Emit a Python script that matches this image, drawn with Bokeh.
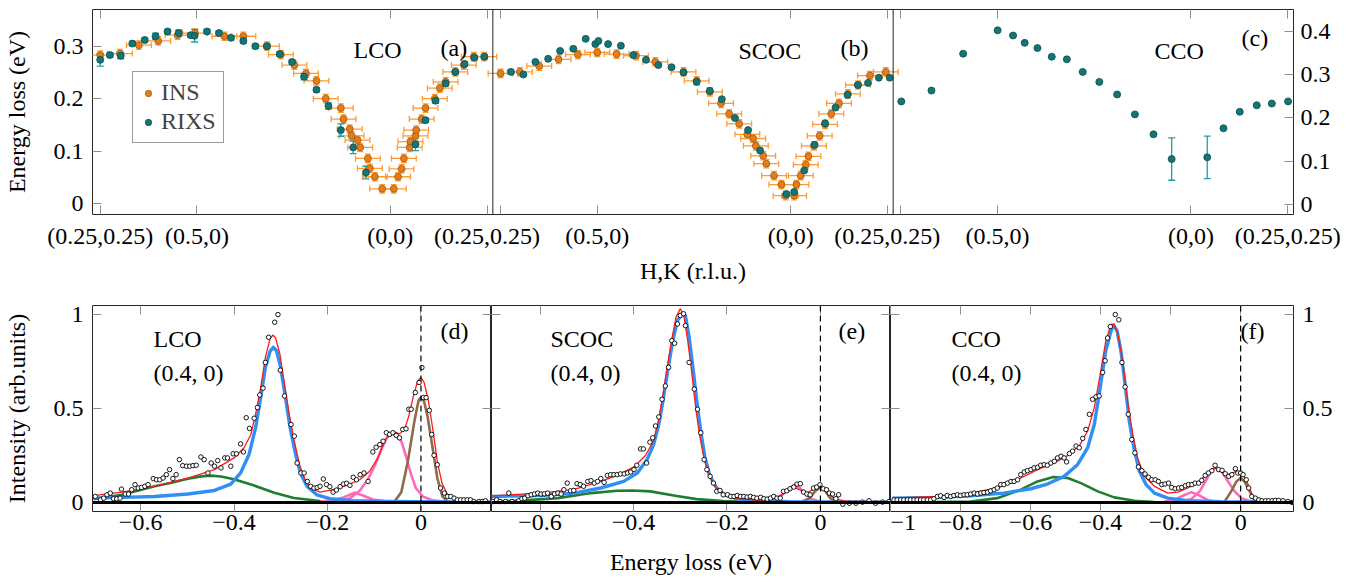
from bokeh.plotting import figure
from bokeh.models import (Range1d, LinearAxis, FixedTicker, Span, Label, Legend, LegendItem,
                          Whisker, TeeHead, ColumnDataSource, CustomJSTickFormatter)
from bokeh.layouts import column, row
from bokeh.embed import file_html
from bokeh.resources import INLINE

# ---------------- top row: dispersion (q along path, E in eV) ----------------
HK_TICKS = [0.0, 0.25, 0.75, 1.0]
HK_LABELS = ["(0.25,0.25)", "(0.5,0)", "(0,0)", "(0.25,0.25)"]
EAB_TICKS = [0.0, 0.1, 0.2, 0.3]
EAB_LABELS = ["0", "0.1", "0.2", "0.3"]
EC_TICKS = [0.0, 0.1, 0.2, 0.3, 0.4]
EC_LABELS = ["0", "0.1", "0.2", "0.3", "0.4"]

INS_QERR = 0.032
INS_EERR = 0.008

INS_A_Q = [0.0, 0.051, 0.10, 0.15, 0.20, 0.245, 0.321, 0.37, 0.431, 0.467, 0.502, 0.532, 0.559, 0.583,
           0.622, 0.629, 0.645, 0.65, 0.665, 0.672, 0.692, 0.697, 0.71, 0.729, 0.759, 0.77, 0.779, 0.785,
           0.80, 0.802, 0.815, 0.817, 0.831, 0.841, 0.865, 0.878, 0.893, 0.918, 0.94, 0.966, 0.993]
INS_A_E = [0.283, 0.286, 0.302, 0.31, 0.321, 0.325, 0.319, 0.319, 0.30, 0.284, 0.264, 0.248, 0.234, 0.20,
           0.182, 0.161, 0.142, 0.129, 0.121, 0.107, 0.086, 0.067, 0.051, 0.028, 0.028, 0.051, 0.066, 0.086,
           0.107, 0.118, 0.129, 0.14, 0.161, 0.182, 0.20, 0.22, 0.232, 0.251, 0.264, 0.28, 0.28]
RIXS_A_Q = [0.0, 0.025, 0.053, 0.083, 0.115, 0.143, 0.174, 0.203, 0.234, 0.244, 0.276, 0.307, 0.338, 0.37,
            0.401, 0.431, 0.464, 0.496, 0.527, 0.559, 0.59, 0.622, 0.654, 0.687, 0.815, 0.841, 0.867, 0.893,
            0.918, 0.942, 0.967, 0.993]
RIXS_A_E = [0.274, 0.283, 0.282, 0.305, 0.312, 0.319, 0.328, 0.325, 0.321, 0.32, 0.328, 0.325, 0.316, 0.31,
            0.30, 0.30, 0.285, 0.27, 0.242, 0.217, 0.186, 0.14, 0.107, 0.059, 0.113, 0.159, 0.196, 0.229,
            0.251, 0.266, 0.278, 0.28]
RIXS_A_ERR = [0.012, 0.004, 0.006, 0.004, 0.004, 0.006, 0.004, 0.006, 0.004, 0.012, 0.004, 0.004, 0.004,
              0.004, 0.004, 0.004, 0.004, 0.004, 0.006, 0.004, 0.006, 0.012, 0.012, 0.012, 0.012, 0.004,
              0.004, 0.004, 0.004, 0.004, 0.004, 0.004]

INS_B_Q = [0.0, 0.05, 0.10, 0.15, 0.20, 0.25, 0.30, 0.35, 0.40, 0.473, 0.507, 0.541, 0.57, 0.591, 0.617,
           0.638, 0.653, 0.66, 0.679, 0.687, 0.707, 0.726, 0.737, 0.759, 0.765, 0.776, 0.789, 0.796, 0.81,
           0.825, 0.839, 0.855, 0.875, 0.898, 0.924, 0.955, 0.996]
INS_B_E = [0.248, 0.251, 0.262, 0.275, 0.284, 0.288, 0.285, 0.282, 0.27, 0.251, 0.234, 0.213, 0.191, 0.171,
           0.152, 0.132, 0.124, 0.11, 0.091, 0.076, 0.053, 0.036, 0.015, 0.015, 0.036, 0.053, 0.074, 0.09,
           0.11, 0.129, 0.151, 0.171, 0.191, 0.209, 0.226, 0.244, 0.251]
RIXS_B_Q = [0.027, 0.059, 0.09, 0.123, 0.154, 0.188, 0.22, 0.245, 0.253, 0.278, 0.311, 0.343, 0.376, 0.408,
            0.442, 0.473, 0.507, 0.541, 0.572, 0.606, 0.64, 0.671, 0.739, 0.759, 0.785, 0.812, 0.839, 0.866,
            0.897, 0.924, 0.95, 0.978, 1.006]
RIXS_B_E = [0.251, 0.246, 0.27, 0.276, 0.291, 0.295, 0.314, 0.304, 0.31, 0.304, 0.301, 0.283, 0.274, 0.264,
            0.26, 0.25, 0.232, 0.215, 0.199, 0.163, 0.14, 0.101, 0.018, 0.022, 0.063, 0.112, 0.153, 0.183,
            0.207, 0.226, 0.23, 0.24, 0.24]

RIXS_C_Q = [0.001, 0.079, 0.161, 0.25, 0.29, 0.32, 0.353, 0.39, 0.429, 0.47, 0.513, 0.559, 0.605, 0.653,
            0.70, 0.792, 0.834, 0.876, 0.92, 0.959, 1.001]
RIXS_C_E = [0.238, 0.263, 0.348, 0.402, 0.39, 0.373, 0.361, 0.341, 0.335, 0.306, 0.283, 0.254, 0.208, 0.162,
            0.105, 0.109, 0.176, 0.214, 0.229, 0.233, 0.238]
RIXS_C_ERR = [0.0, 0.0, 0.0, 0.0, 0.0, 0.0, 0.0, 0.0, 0.0, 0.0, 0.0, 0.0, 0.0, 0.0,
              0.049, 0.049, 0.0, 0.0, 0.0, 0.0, 0.0]

# ---------------- bottom row: RIXS spectra ----------------
I_TICKS = [0.0, 0.5, 1.0]
I_LABELS = ["0", "0.5", "1"]
EDE_TICKS = [-0.6, -0.4, -0.2, 0.0]
EDE_LABELS = ["\u22120.6", "\u22120.4", "\u22120.2", "0"]
EF_TICKS = [-1.0, -0.8, -0.6, -0.4, -0.2, 0.0]
EF_LABELS = ["\u22121", "\u22120.8", "\u22120.6", "\u22120.4", "\u22120.2", "0"]

D_DATA_E = [-0.697, -0.686, -0.679, -0.672, -0.665, -0.658, -0.651, -0.644, -0.641, -0.633,
            -0.626, -0.619, -0.612, -0.605, -0.598, -0.591, -0.584, -0.573, -0.566, -0.559,
            -0.552, -0.545, -0.538, -0.531, -0.524, -0.517, -0.51, -0.502, -0.495, -0.488,
            -0.481, -0.471, -0.464, -0.456, -0.449, -0.442, -0.435, -0.428, -0.42, -0.414,
            -0.407, -0.402, -0.395, -0.386, -0.38, -0.374, -0.367, -0.357, -0.35, -0.345,
            -0.338, -0.333, -0.326, -0.313, -0.306, -0.301, -0.292, -0.278, -0.271, -0.265,
            -0.257, -0.25, -0.243, -0.236, -0.229, -0.222, -0.216, -0.209, -0.202, -0.195,
            -0.188, -0.181, -0.173, -0.166, -0.159, -0.152, -0.145, -0.138, -0.13, -0.122,
            -0.113, -0.103, -0.096, -0.088, -0.081, -0.074, -0.067, -0.06, -0.053, -0.046,
            -0.039, -0.032, -0.026, -0.021, -0.012, -0.004, 0.002, 0.005, 0.011, 0.018,
            0.023, 0.028, 0.035, 0.042, 0.05, 0.057, 0.064, 0.071, 0.078, 0.085,
            0.092, 0.099, 0.106, 0.113, 0.124, 0.131, 0.138]
D_DATA_I = [0.032, 0.014, 0.023, 0.041, 0.05, 0.02, 0.02, 0.023, 0.071, 0.045,
            0.045, 0.068, 0.095, 0.077, 0.08, 0.086, 0.095, 0.127, 0.121, 0.121,
            0.13, 0.148, 0.175, 0.127, 0.148, 0.228, 0.196, 0.193, 0.193, 0.196,
            0.198, 0.242, 0.228, 0.157, 0.21, 0.193, 0.223, 0.184, 0.237, 0.237,
            0.193, 0.259, 0.259, 0.312, 0.269, 0.451, 0.394, 0.448, 0.505, 0.572,
            0.608, 0.745, 0.879, 0.959, 1.0, 0.704, 0.567, 0.415, 0.353, 0.21,
            0.157, 0.157, 0.112, 0.086, 0.077, 0.08, 0.086, 0.125, 0.095, 0.084,
            0.055, 0.066, 0.084, 0.098, 0.102, 0.091, 0.134, 0.121, 0.148, 0.157,
            0.112, 0.269, 0.294, 0.308, 0.326, 0.371, 0.362, 0.371, 0.357, 0.344,
            0.389, 0.392, 0.496, 0.496, 0.585, 0.638, 0.718, 0.558, 0.558, 0.49,
            0.362, 0.251, 0.201, 0.077, 0.05, 0.032, 0.032, 0.023, 0.014, 0.014,
            0.014, 0.014, 0.014, 0.005, 0.005, 0.005, 0.009]
D_RED_E = [-0.701, -0.64, -0.57, -0.499, -0.442, -0.40, -0.379, -0.364, -0.354, -0.343,
           -0.333, -0.323, -0.317, -0.311, -0.302, -0.292, -0.282, -0.271, -0.26, -0.248,
           -0.234, -0.216, -0.188, -0.159, -0.131, -0.11, -0.092, -0.078, -0.066, -0.057,
           -0.046, -0.035, -0.026, -0.016, -0.007, 0.0, 0.007, 0.016, 0.026, 0.035,
           0.045, 0.057, 0.074, 0.103, 0.151]
D_RED_I = [0.037, 0.055, 0.086, 0.13, 0.175, 0.237, 0.29, 0.362, 0.469, 0.611,
           0.772, 0.87, 0.891, 0.875, 0.79, 0.629, 0.469, 0.326, 0.201, 0.121,
           0.073, 0.055, 0.068, 0.091, 0.121, 0.166, 0.237, 0.326, 0.371, 0.376,
           0.365, 0.389, 0.46, 0.567, 0.647, 0.665, 0.638, 0.54, 0.38, 0.219,
           0.103, 0.041, 0.014, 0.007, 0.005]
D_BLUE_E = [-0.701, -0.64, -0.57, -0.499, -0.442, -0.407, -0.386, -0.368, -0.354, -0.343,
            -0.333, -0.323, -0.316, -0.309, -0.301, -0.29, -0.28, -0.269, -0.258, -0.244,
            -0.223, -0.195, -0.145, -0.074, 0.151]
D_BLUE_I = [0.023, 0.027, 0.032, 0.045, 0.064, 0.098, 0.157, 0.255, 0.397, 0.558,
            0.718, 0.804, 0.825, 0.807, 0.727, 0.558, 0.397, 0.264, 0.157, 0.086,
            0.041, 0.02, 0.009, 0.005, 0.002]
D_GREEN_E = [-0.701, -0.64, -0.57, -0.534, -0.499, -0.471, -0.449, -0.428, -0.40, -0.357, -0.314,
             -0.272, -0.216, -0.145, 0.151]
D_GREEN_I = [0.018, 0.041, 0.086, 0.105, 0.126, 0.139, 0.143, 0.138, 0.124, 0.09, 0.052,
             0.024, 0.008, 0.002, 0.0]
D_PINK1_E = [-0.216, -0.188, -0.166, -0.142, -0.124, -0.103, -0.074]
D_PINK1_I = [0.005, 0.012, 0.027, 0.052, 0.037, 0.016, 0.005]
D_PINK2_E = [-0.173, -0.152, -0.131, -0.113, -0.099, -0.085, -0.074, -0.064, -0.053, -0.042,
             -0.032, -0.021, -0.011, 0.004, 0.025, 0.053, 0.151]
D_PINK2_I = [0.005, 0.023, 0.062, 0.125, 0.196, 0.282, 0.34, 0.369, 0.365, 0.326,
             0.246, 0.148, 0.077, 0.032, 0.011, 0.004, 0.0]
D_BROWN_E = [-0.057, -0.042, -0.028, -0.014, -0.005, 0.0, 0.006, 0.014, 0.025, 0.035, 0.046, 0.057]
D_BROWN_I = [0.004, 0.055, 0.219, 0.433, 0.544, 0.558, 0.544, 0.46, 0.29, 0.13, 0.032, 0.005]

E_DATA_E = [-0.701, -0.693, -0.686, -0.674, -0.667, -0.66, -0.646, -0.639, -0.633, -0.626,
            -0.619, -0.612, -0.605, -0.598, -0.591, -0.584, -0.576, -0.569, -0.562, -0.555,
            -0.549, -0.542, -0.535, -0.528, -0.521, -0.514, -0.507, -0.498, -0.491, -0.484,
            -0.477, -0.47, -0.463, -0.456, -0.449, -0.442, -0.435, -0.428, -0.42, -0.413,
            -0.406, -0.399, -0.393, -0.385, -0.379, -0.372, -0.365, -0.359, -0.353, -0.346,
            -0.339, -0.332, -0.325, -0.318, -0.312, -0.306, -0.3, -0.293, -0.289, -0.281,
            -0.27, -0.263, -0.256, -0.249, -0.243, -0.236, -0.229, -0.222, -0.215, -0.208,
            -0.199, -0.192, -0.185, -0.178, -0.171, -0.164, -0.157, -0.15, -0.143, -0.136,
            -0.128, -0.121, -0.114, -0.107, -0.1, -0.093, -0.086, -0.079, -0.072, -0.065,
            -0.057, -0.05, -0.043, -0.036, -0.029, -0.022, -0.015, -0.008, -0.001, 0.006,
            0.013, 0.019, 0.026, 0.033, 0.039, 0.048, 0.062, 0.076, 0.09, 0.104,
            0.118, 0.133, 0.147]
E_DATA_I = [0.005, 0.014, 0.005, 0.005, 0.05, 0.005, 0.009, 0.02, 0.023, 0.036,
            0.041, 0.045, 0.05, 0.045, 0.046, 0.05, 0.032, 0.046, 0.05, 0.045,
            0.068, 0.103, 0.062, 0.064, 0.1, 0.095, 0.086, 0.112, 0.116, 0.103,
            0.112, 0.127, 0.107, 0.144, 0.148, 0.148, 0.148, 0.152, 0.152, 0.157,
            0.162, 0.175, 0.198, 0.285, 0.285, 0.21, 0.321, 0.344, 0.407, 0.455,
            0.549, 0.62, 0.719, 0.861, 0.847, 0.95, 0.995, 1.004, 0.941, 0.745,
            0.603, 0.496, 0.371, 0.228, 0.175, 0.139, 0.103, 0.059, 0.064, 0.041,
            0.041, 0.032, 0.032, 0.037, 0.032, 0.032, 0.029, 0.032, 0.027, 0.023,
            0.027, 0.02, 0.018, 0.023, 0.032, 0.023, 0.023, 0.059, 0.062, 0.073,
            0.082, 0.098, 0.1, 0.055, 0.045, 0.041, 0.077, 0.082, 0.094, 0.073,
            0.068, 0.05, 0.045, 0.02, 0.041, -0.009, -0.004, -0.004, 0.002, 0.009,
            -0.004, 0.002, 0.005]
E_RED_E = [-0.704, -0.598, -0.527, -0.47, -0.435, -0.399, -0.374, -0.357, -0.346, -0.338,
           -0.328, -0.318, -0.309, -0.3, -0.293, -0.284, -0.275, -0.267, -0.259, -0.25,
           -0.24, -0.226, -0.208, -0.179, -0.137, -0.109, -0.087, -0.07, -0.057, -0.045,
           -0.03, -0.016, -0.002, 0.009, 0.019, 0.033, 0.055, 0.15]
E_RED_I = [0.035, 0.05, 0.07, 0.112, 0.144, 0.189, 0.251, 0.33, 0.442, 0.558,
           0.718, 0.87, 0.986, 1.03, 1.004, 0.861, 0.683, 0.504, 0.362, 0.246,
           0.148, 0.086, 0.046, 0.023, 0.011, 0.014, 0.032, 0.064, 0.082, 0.068,
           0.05, 0.068, 0.089, 0.071, 0.041, 0.018, 0.007, 0.005]
E_BLUE_E = [-0.704, -0.598, -0.527, -0.47, -0.421, -0.392, -0.371, -0.357, -0.346, -0.337,
            -0.327, -0.316, -0.306, -0.296, -0.289, -0.281, -0.272, -0.263, -0.255, -0.247,
            -0.236, -0.222, -0.204, -0.179, -0.137, -0.066, 0.15]
E_BLUE_I = [0.032, 0.037, 0.05, 0.077, 0.112, 0.157, 0.228, 0.308, 0.415, 0.54,
            0.7, 0.861, 0.968, 1.004, 0.995, 0.879, 0.7, 0.504, 0.362, 0.237,
            0.139, 0.077, 0.041, 0.02, 0.009, 0.004, 0.002]
E_GREEN_E = [-0.704, -0.633, -0.562, -0.491, -0.435, -0.403, -0.364, -0.314, -0.265, -0.208, -0.137, 0.15]
E_GREEN_I = [0.005, 0.011, 0.023, 0.05, 0.062, 0.064, 0.059, 0.037, 0.018, 0.007, 0.002, 0.0]
E_PINK_E = [-0.123, -0.101, -0.08, -0.066, -0.055, -0.045, -0.034, -0.02, -0.002]
E_PINK_I = [0.005, 0.014, 0.045, 0.077, 0.094, 0.08, 0.05, 0.02, 0.005]
E_BROWN_E = [-0.038, -0.023, -0.013, 0.0, 0.011, 0.021, 0.033]
E_BROWN_I = [0.005, 0.023, 0.055, 0.084, 0.059, 0.023, 0.005]

F_DATA_E = [-0.99, -0.981, -0.971, -0.962, -0.952, -0.943, -0.933, -0.924, -0.914, -0.905,
            -0.895, -0.885, -0.876, -0.866, -0.857, -0.847, -0.838, -0.828, -0.819, -0.809,
            -0.8, -0.79, -0.781, -0.771, -0.761, -0.752, -0.742, -0.733, -0.723, -0.714,
            -0.704, -0.695, -0.685, -0.676, -0.666, -0.656, -0.647, -0.637, -0.628, -0.618,
            -0.609, -0.599, -0.59, -0.58, -0.571, -0.561, -0.552, -0.542, -0.532, -0.523,
            -0.513, -0.504, -0.497, -0.489, -0.48, -0.47, -0.461, -0.451, -0.442, -0.432,
            -0.423, -0.413, -0.404, -0.394, -0.387, -0.38, -0.372, -0.358, -0.348, -0.339,
            -0.33, -0.321, -0.311, -0.302, -0.292, -0.282, -0.273, -0.263, -0.254, -0.244,
            -0.235, -0.225, -0.216, -0.206, -0.197, -0.187, -0.177, -0.168, -0.158, -0.149,
            -0.139, -0.13, -0.12, -0.111, -0.101, -0.092, -0.082, -0.073, -0.063, -0.053,
            -0.044, -0.034, -0.025, -0.015, -0.008, 0.0, 0.007, 0.016, 0.023, 0.032,
            0.042, 0.052, 0.061, 0.071, 0.08, 0.09, 0.099, 0.109, 0.121, 0.135, 0.147]
F_DATA_I = [0.014, 0.014, 0.014, 0.014, 0.014, 0.014, 0.014, 0.014, 0.014, 0.014,
            0.014, 0.014, 0.02, 0.032, 0.036, 0.027, 0.037, 0.032, 0.037, 0.041,
            0.037, 0.041, 0.041, 0.045, 0.05, 0.045, 0.05, 0.053, 0.055, 0.062,
            0.068, 0.077, 0.095, 0.095, 0.103, 0.112, 0.112, 0.121, 0.148, 0.162,
            0.169, 0.175, 0.184, 0.187, 0.198, 0.201, 0.198, 0.21, 0.219, 0.237,
            0.246, 0.237, 0.216, 0.26, 0.273, 0.3, 0.291, 0.341, 0.389, 0.469,
            0.549, 0.562, 0.567, 0.692, 0.754, 0.875, 0.936, 1.0, 0.972, 0.745,
            0.615, 0.469, 0.335, 0.264, 0.189, 0.169, 0.152, 0.134, 0.121, 0.121,
            0.112, 0.095, 0.098, 0.103, 0.08, 0.073, 0.077, 0.08, 0.089, 0.095,
            0.095, 0.103, 0.103, 0.118, 0.144, 0.157, 0.169, 0.198, 0.175, 0.171,
            0.153, 0.139, 0.148, 0.18, 0.157, 0.157, 0.148, 0.121, 0.077, 0.032,
            0.023, 0.014, 0.009, 0.009, 0.009, 0.009, 0.011, 0.011, 0.009, 0.005, 0.0]
F_RED_E = [-0.995, -0.866, -0.771, -0.695, -0.628, -0.58, -0.532, -0.494, -0.461, -0.437,
           -0.418, -0.401, -0.385, -0.37, -0.361, -0.351, -0.337, -0.323, -0.308, -0.294,
           -0.275, -0.246, -0.208, -0.179, -0.151, -0.122, -0.094, -0.074, -0.055, -0.036,
           -0.012, 0.0, 0.016, 0.035, 0.059, 0.15]
F_RED_I = [0.023, 0.032, 0.05, 0.077, 0.13, 0.175, 0.21, 0.25, 0.3, 0.38,
           0.505, 0.683, 0.861, 0.947, 0.95, 0.897, 0.754, 0.54, 0.362, 0.237,
           0.139, 0.086, 0.05, 0.055, 0.077, 0.107, 0.157, 0.184, 0.162, 0.148,
           0.166, 0.162, 0.121, 0.032, 0.009, 0.005]
F_BLUE_E = [-0.995, -0.866, -0.771, -0.676, -0.599, -0.552, -0.504, -0.466, -0.437, -0.418,
            -0.401, -0.385, -0.37, -0.363, -0.353, -0.342, -0.33, -0.318, -0.303, -0.289,
            -0.27, -0.246, -0.208, -0.151, -0.055, 0.15]
F_BLUE_I = [0.023, 0.027, 0.036, 0.05, 0.073, 0.098, 0.139, 0.201, 0.291, 0.415,
            0.612, 0.808, 0.915, 0.941, 0.915, 0.808, 0.629, 0.433, 0.273, 0.166,
            0.095, 0.05, 0.023, 0.009, 0.004, 0.002]
F_GREEN_E = [-0.995, -0.771, -0.695, -0.628, -0.58, -0.535, -0.494, -0.456, -0.408, -0.361, -0.303, -0.246, 0.15]
F_GREEN_I = [0.0, 0.005, 0.023, 0.068, 0.112, 0.135, 0.13, 0.103, 0.059, 0.027, 0.009, 0.002, 0.0]
F_PINK1_E = [-0.218, -0.189, -0.165, -0.141, -0.117, -0.094, -0.065]
F_PINK1_I = [0.004, 0.014, 0.036, 0.055, 0.037, 0.012, 0.004]
F_PINK2_E = [-0.17, -0.141, -0.117, -0.098, -0.082, -0.07, -0.055, -0.036, -0.017, 0.002, 0.031, 0.15]
F_PINK2_I = [0.004, 0.018, 0.059, 0.121, 0.175, 0.187, 0.169, 0.112, 0.059, 0.023, 0.005, 0.0]
F_BROWN_E = [-0.046, -0.027, -0.012, 0.0, 0.011, 0.026, 0.04]
F_BROWN_I = [0.004, 0.059, 0.112, 0.13, 0.112, 0.059, 0.009]

# ---------------- styles ----------------
FONT = "Liberation Serif"
FS = "24px"
TICK_C = "#8f8f8f"
FRAME_C = "#262626"
ORANGE, ORANGE_EDGE, ORANGE_BAR = "#e37d1c", "#a65a0c", "#ff9a33"
TEAL, TEAL_EDGE, TEAL_BAR = "#147575", "#0b4f4f", "#1aa0a0"
RED, BLUE, GREEN, PINK, BROWN = "#ff1a1a", "#2f8ff5", "#1d7f2e", "#ff69b9", "#8b6c4c"

PANEL_SPAN = 1.035
Q_MIN = -0.02
OFFS = [0.0, PANEL_SPAN, 2 * PANEL_SPAN]


def make_axis(ticks, labels=None, standoff=8, axis_label=None, axis_label_standoff=10, **kw):
    ax = LinearAxis(ticker=FixedTicker(ticks=list(ticks)), **kw)
    ax.major_tick_in = 9
    ax.major_tick_out = 0
    ax.minor_tick_in = 0
    ax.minor_tick_out = 0
    ax.minor_tick_line_color = None
    ax.major_tick_line_color = TICK_C
    ax.major_tick_line_width = 1
    ax.axis_line_color = None
    if labels is None:
        ax.formatter = CustomJSTickFormatter(code="return '';")
        ax.major_label_text_font_size = "0px"
        ax.major_label_standoff = 0
    else:
        ax.major_label_overrides = {t: l for t, l in zip(ticks, labels)}
        ax.major_label_text_font = FONT
        ax.major_label_text_font_size = FS
        ax.major_label_text_color = "black"
        ax.major_label_standoff = standoff
    if axis_label:
        ax.axis_label = axis_label
        ax.axis_label_text_font = FONT
        ax.axis_label_text_font_size = FS
        ax.axis_label_text_font_style = "normal"
        ax.axis_label_text_color = "black"
        ax.axis_label_standoff = axis_label_standoff
    return ax


def base_style(p):
    p.xgrid.visible = False
    p.ygrid.visible = False
    p.outline_line_color = FRAME_C
    p.outline_line_width = 1
    p.background_fill_color = "white"
    p.border_fill_color = "white"


def add_label(p, x, y, text):
    p.add_layout(Label(x=x, y=y, x_units="screen", y_units="screen", text=text,
                       text_font=FONT, text_font_size=FS, text_color="black",
                       text_align="left", text_baseline="alphabetic"))


# ---------------- top figure (a), (b), (c) ----------------
top = figure(width=1355, height=291, x_range=Range1d(Q_MIN, Q_MIN + 3 * PANEL_SPAN),
             y_range=Range1d(-0.021, 0.37), output_backend="svg", toolbar_location=None,
             x_axis_location=None, y_axis_location=None,
             min_border_left=89, min_border_right=62, min_border_top=9, min_border_bottom=77)
top.extra_y_ranges = {"c": Range1d(-0.023, 0.45)}
base_style(top)

top_ticks, top_labels = [], []
for k, off in enumerate(OFFS):
    for t, lab in zip(HK_TICKS, HK_LABELS):
        top_ticks.append(round(t + off, 4))
        top_labels.append("" if (k > 0 and t == 0.0) else lab)

top.add_layout(make_axis(top_ticks, top_labels, standoff=8, axis_label="H,K (r.l.u.)",
                         axis_label_standoff=6), "below")
top.add_layout(make_axis(top_ticks), "above")
top.add_layout(make_axis(EAB_TICKS, EAB_LABELS, standoff=9, axis_label="Energy loss (eV)",
                         axis_label_standoff=21), "left")
top.add_layout(make_axis(EC_TICKS, EC_LABELS, standoff=7, y_range_name="c"), "right")

for k in (1, 2):
    top.add_layout(Span(location=Q_MIN + k * PANEL_SPAN, dimension="height",
                        line_color=FRAME_C, line_width=1))


def ins_panel(q, e, off):
    x = [v + off for v in q]
    hs = ColumnDataSource(dict(y=e, lo=[v - INS_QERR for v in x], hi=[v + INS_QERR for v in x]))
    top.add_layout(Whisker(source=hs, base="y", lower="lo", upper="hi", dimension="width",
                           line_color=ORANGE_BAR, line_width=1.3, level="underlay",
                           upper_head=TeeHead(size=6, line_color=ORANGE_BAR, line_width=1.3),
                           lower_head=TeeHead(size=6, line_color=ORANGE_BAR, line_width=1.3)))
    vs = ColumnDataSource(dict(x=x, lo=[v - INS_EERR for v in e], hi=[v + INS_EERR for v in e]))
    top.add_layout(Whisker(source=vs, base="x", lower="lo", upper="hi", dimension="height",
                           line_color=ORANGE_BAR, line_width=1.3, level="underlay",
                           upper_head=TeeHead(size=6, line_color=ORANGE_BAR, line_width=1.3),
                           lower_head=TeeHead(size=6, line_color=ORANGE_BAR, line_width=1.3)))
    return top.scatter(x, e, marker="circle", size=7, fill_color=ORANGE, line_color=ORANGE_EDGE,
                       line_width=0.8)


def rixs_panel(q, e, off, err=None, rname="default"):
    x = [v + off for v in q]
    if err is not None:
        vs = ColumnDataSource(dict(x=x, lo=[a - b for a, b in zip(e, err)],
                                   hi=[a + b for a, b in zip(e, err)]))
        top.add_layout(Whisker(source=vs, base="x", lower="lo", upper="hi", dimension="height",
                               line_color=TEAL_BAR, line_width=1.3, level="underlay",
                               y_range_name=rname,
                               upper_head=TeeHead(size=7, line_color=TEAL_BAR, line_width=1.3),
                               lower_head=TeeHead(size=7, line_color=TEAL_BAR, line_width=1.3)))
    return top.scatter(x, e, marker="circle", size=7, fill_color=TEAL, line_color=TEAL_EDGE,
                       line_width=0.8, y_range_name=rname)


r_ins = ins_panel(INS_A_Q, INS_A_E, OFFS[0])
r_rixs = rixs_panel(RIXS_A_Q, RIXS_A_E, OFFS[0], RIXS_A_ERR)
ins_panel(INS_B_Q, INS_B_E, OFFS[1])
rixs_panel(RIXS_B_Q, RIXS_B_E, OFFS[1])
rixs_panel(RIXS_C_Q, RIXS_C_E, OFFS[2], RIXS_C_ERR, rname="c")

legend = Legend(items=[LegendItem(label="INS", renderers=[r_ins]),
                       LegendItem(label="RIXS", renderers=[r_rixs])],
                location=(40, 71))
legend.label_text_font = FONT
legend.label_text_font_size = FS
legend.border_line_color = "#3d3d3d"
legend.border_line_width = 1.2
legend.padding = 7
legend.spacing = 2
legend.label_standoff = 5
legend.glyph_width = 16
legend.glyph_height = 20
legend.margin = 0
legend.background_fill_color = "white"
top.add_layout(legend)

add_label(top, 261, 165, "LCO")
add_label(top, 348, 167, "(a)")
add_label(top, 646, 164, "SCOC")
add_label(top, 748, 167, "(b)")
add_label(top, 1062, 164, "CCO")
add_label(top, 1149, 177, "(c)")


# ---------------- bottom figures (d), (e), (f) ----------------
def bottom_fig(width, xr, ml, mr):
    f = figure(width=width, height=290, x_range=Range1d(*xr), y_range=Range1d(-0.048, 1.048),
               output_backend="svg", toolbar_location=None, x_axis_location=None, y_axis_location=None,
               min_border_left=ml, min_border_right=mr, min_border_top=14, min_border_bottom=70)
    base_style(f)
    return f


def draw_spectrum(f, comps, de, di):
    for xs, ys, color, lw in comps:
        f.line(xs, ys, line_color=color, line_width=lw, line_join="round")
    f.add_layout(Span(location=0, dimension="width", line_color="black", line_width=3))
    f.add_layout(Span(location=0, dimension="height", line_color="black", line_width=1.2,
                      line_dash="6 4"))
    f.scatter(de, di, marker="circle", size=4.5, fill_color="white", line_color="black", line_width=0.9)


pd_ = bottom_fig(491, (-0.703, 0.151), 89, 0)
pd_.add_layout(make_axis(EDE_TICKS, EDE_LABELS, standoff=3), "below")
pd_.add_layout(make_axis(EDE_TICKS), "above")
pd_.add_layout(make_axis(I_TICKS, I_LABELS, standoff=9, axis_label="Intensity (arb.units)",
                         axis_label_standoff=21), "left")
pd_.add_layout(make_axis(I_TICKS), "right")
draw_spectrum(pd_, [(D_GREEN_E, D_GREEN_I, GREEN, 2.6), (D_PINK1_E, D_PINK1_I, PINK, 2.6),
                    (D_PINK2_E, D_PINK2_I, PINK, 2.6), (D_BROWN_E, D_BROWN_I, BROWN, 2.6),
                    (D_BLUE_E, D_BLUE_I, BLUE, 3.4), (D_RED_E, D_RED_I, RED, 1.3)],
              D_DATA_E, D_DATA_I)
add_label(pd_, 61, 173, "LCO")
add_label(pd_, 61, 139, "(0.4, 0)")
add_label(pd_, 348, 181, "(d)")

pe_ = bottom_fig(399, (-0.704, 0.15), 0, 0)
pe_.add_layout(make_axis(EDE_TICKS, EDE_LABELS, standoff=3, axis_label="Energy loss (eV)",
                         axis_label_standoff=16), "below")
pe_.add_layout(make_axis(EDE_TICKS), "above")
pe_.add_layout(make_axis(I_TICKS), "left")
pe_.add_layout(make_axis(I_TICKS), "right")
draw_spectrum(pe_, [(E_GREEN_E, E_GREEN_I, GREEN, 2.6), (E_PINK_E, E_PINK_I, PINK, 2.6),
                    (E_BROWN_E, E_BROWN_I, BROWN, 2.6), (E_BLUE_E, E_BLUE_I, BLUE, 3.4),
                    (E_RED_E, E_RED_I, RED, 1.3)],
              E_DATA_E, E_DATA_I)
add_label(pe_, 59, 173, "SCOC")
add_label(pe_, 59, 139, "(0.4, 0)")
add_label(pe_, 347, 181, "(e)")

pf_ = bottom_fig(465, (-1.0, 0.151), 0, 62)
pf_.add_layout(make_axis(EF_TICKS, EF_LABELS, standoff=3), "below")
pf_.add_layout(make_axis(EF_TICKS), "above")
pf_.add_layout(make_axis(I_TICKS), "left")
pf_.add_layout(make_axis(I_TICKS, I_LABELS, standoff=9), "right")
draw_spectrum(pf_, [(F_GREEN_E, F_GREEN_I, GREEN, 2.6), (F_PINK1_E, F_PINK1_I, PINK, 2.6),
                    (F_PINK2_E, F_PINK2_I, PINK, 2.6), (F_BROWN_E, F_BROWN_I, BROWN, 2.6),
                    (F_BLUE_E, F_BLUE_I, BLUE, 3.4), (F_RED_E, F_RED_I, RED, 1.3)],
              F_DATA_E, F_DATA_I)
add_label(pf_, 61, 173, "CCO")
add_label(pf_, 61, 139, "(0.4, 0)")
add_label(pf_, 350, 181, "(f)")

layout = column(top, row(pd_, pe_, pf_))
open("out.html", "w").write(file_html(layout, INLINE))
